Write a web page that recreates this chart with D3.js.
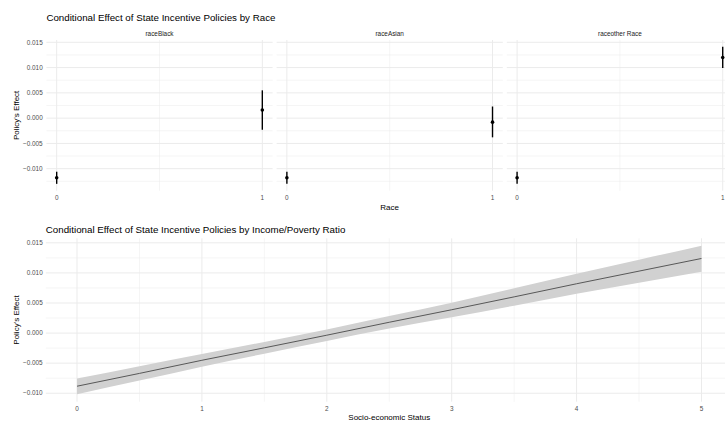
<!DOCTYPE html>
<meta charset="utf-8">
<style>
body { margin: 0; background: #fff; }
svg { font-family: "Liberation Sans", Arial, sans-serif; display: block; }
.grid-major { stroke: #ebebeb; stroke-width: 1; }
.grid-minor { stroke: #ebebeb; stroke-width: 0.5; }
.tick-label { font-size: 6.4px; fill: #4d4d4d; }
.axis-title { font-size: 8px; fill: #000; }
.plot-title { font-size: 9.75px; fill: #000; }
.strip { font-size: 6.4px; fill: #1a1a1a; }
</style>
<body>
<script src="https://cdn.jsdelivr.net/npm/d3@7"></script>
<script>

// race panels: effect at race = 0 and race = 1
const races = ["raceBlack", "raceAsian", "raceother Race"];
const raceX = [0, 1];
const raceEst = [[-0.0118, 0.0016], [-0.0118, -0.0008], [-0.0118, 0.0120]];
const raceLow = [[-0.0130, -0.0023], [-0.0130, -0.0038], [-0.0130, 0.0099]];
const raceHigh = [[-0.0106, 0.0055], [-0.0106, 0.0023], [-0.0106, 0.0141]];

// income/poverty ratio panel
const sesX = [0, 0.5, 1, 1.5, 2, 2.5, 3, 3.5, 4, 4.5, 5];
const sesFit = [-0.00883, -0.00670, -0.00452, -0.00245, -0.00035, 0.00180, 0.00388, 0.00602, 0.00820, 0.01030, 0.01240];
const sesLow = [-0.01017, -0.00790, -0.00560, -0.00343, -0.00130, 0.00075, 0.00262, 0.00455, 0.00652, 0.00838, 0.01020];
const sesHigh = [-0.00756, -0.00550, -0.00348, -0.00147, 0.00058, 0.00282, 0.00505, 0.00745, 0.00985, 0.01220, 0.01452];

const yTicks = [-0.010, -0.005, 0.000, 0.005, 0.010, 0.015];
const yMinor = [-0.0125, -0.0075, -0.0025, 0.0025, 0.0075, 0.0125];
const sesTicks = [0, 1, 2, 3, 4, 5];
const sesMinor = [0.5, 1.5, 2.5, 3.5, 4.5];

const W = 725, H = 421;
const svg = d3.select("body").append("svg").attr("width", W).attr("height", H);
const fmt = d3.format(".3f");

function expand(lo, hi, f) {
  const d = (hi - lo) * f;
  return [lo - d, hi + d];
}

function yGrid(g, y, left, right) {
  g.selectAll(".ymin").data(yMinor.filter(v => v >= y.domain()[0] && v <= y.domain()[1]))
    .enter().append("line").attr("class", "grid-minor")
    .attr("x1", left).attr("x2", right)
    .attr("y1", d => y(d)).attr("y2", d => y(d));
  g.selectAll(".ymaj").data(yTicks.filter(v => v >= y.domain()[0] && v <= y.domain()[1]))
    .enter().append("line").attr("class", "grid-major")
    .attr("x1", left).attr("x2", right)
    .attr("y1", d => y(d)).attr("y2", d => y(d));
}

// ---- top: faceted point ranges ----
const top1 = 40, bottom1 = 190.7;
const allLow = d3.min(raceLow.flat()), allHigh = d3.max(raceHigh.flat());
const y1 = d3.scaleLinear().domain(expand(allLow, allHigh, 0.05)).range([bottom1, top1]);
const panelW = 226.2, panelStep = 230.2, panel0 = 46.4;

races.forEach(function(r, i) {
  let left = panel0 + i * panelStep;
  let x = d3.scaleLinear().domain(expand(0, 1, 0.05)).range([left, left + panelW]);
  let g = svg.append("g");
  yGrid(g, y1, left, left + panelW);
  g.append("line").attr("class", "grid-minor")
    .attr("x1", x(0.5)).attr("x2", x(0.5)).attr("y1", top1).attr("y2", bottom1);
  g.selectAll(".xmaj").data(raceX).enter().append("line").attr("class", "grid-major")
    .attr("x1", d => x(d)).attr("x2", d => x(d)).attr("y1", top1).attr("y2", bottom1);

  g.selectAll(".xl").data(raceX).enter().append("text").attr("class", "tick-label")
    .attr("x", d => x(d)).attr("y", 200.3).attr("text-anchor", "middle").text(d => d);

  g.append("text").attr("class", "strip").attr("x", left + panelW / 2).attr("y", 36)
    .attr("text-anchor", "middle").text(r);

  g.selectAll(".bar").data(raceX).enter().append("line")
    .attr("x1", d => x(d)).attr("x2", d => x(d))
    .attr("y1", (d, j) => y1(raceLow[i][j])).attr("y2", (d, j) => y1(raceHigh[i][j]))
    .attr("stroke", "#000").attr("stroke-width", 1.4);
  g.selectAll(".pt").data(raceX).enter().append("circle")
    .attr("cx", d => x(d)).attr("cy", (d, j) => y1(raceEst[i][j]))
    .attr("r", 1.8).attr("fill", "#000");
});

svg.selectAll(".yl1").data(yTicks).enter().append("text").attr("class", "tick-label")
  .attr("x", 42.7).attr("y", d => y1(d)).attr("dy", "0.35em").attr("text-anchor", "end")
  .text(d => fmt(d));

svg.append("text").attr("class", "plot-title").attr("x", 46.4).attr("y", 21).text("Conditional Effect of State Incentive Policies by Race");
svg.append("text").attr("class", "axis-title").attr("x", (panel0 + panel0 + 2 * panelStep + panelW) / 2).attr("y", 209.5)
  .attr("text-anchor", "middle").text("Race");
svg.append("text").attr("class", "axis-title").attr("transform", "translate(18.6," + (top1 + bottom1) / 2 + ")rotate(-90)")
  .attr("text-anchor", "middle").text("Policy's Effect");

// ---- bottom: income/poverty ratio ----
const top2 = 238.3, bottom2 = 401.7, left2 = 45.8, right2 = 732.7;
const x2 = d3.scaleLinear().domain(expand(0, 5, 0.05)).range([left2, right2]);
const y2 = d3.scaleLinear().domain(expand(d3.min(sesLow), d3.max(sesHigh), 0.05)).range([bottom2, top2]);
const g2 = svg.append("g");
yGrid(g2, y2, left2, right2);
g2.selectAll(".xmin").data(sesMinor).enter().append("line").attr("class", "grid-minor")
  .attr("x1", d => x2(d)).attr("x2", d => x2(d)).attr("y1", top2).attr("y2", bottom2);
g2.selectAll(".xmaj").data(sesTicks).enter().append("line").attr("class", "grid-major")
  .attr("x1", d => x2(d)).attr("x2", d => x2(d)).attr("y1", top2).attr("y2", bottom2);

const ses = sesX.map((d, i) => ({x: d, fit: sesFit[i], lo: sesLow[i], hi: sesHigh[i]}));
g2.append("path").datum(ses)
  .attr("d", d3.area().x(d => x2(d.x)).y0(d => y2(d.lo)).y1(d => y2(d.hi)).curve(d3.curveMonotoneX))
  .attr("fill", "#d1d1d1");
g2.append("path").datum(ses)
  .attr("d", d3.line().x(d => x2(d.x)).y(d => y2(d.fit)))
  .attr("fill", "none").attr("stroke", "#4a4a4a").attr("stroke-width", 0.9);

g2.selectAll(".yl2").data(yTicks).enter().append("text").attr("class", "tick-label")
  .attr("x", 42.7).attr("y", d => y2(d)).attr("dy", "0.35em").attr("text-anchor", "end")
  .text(d => fmt(d));
g2.selectAll(".xl2").data(sesTicks).enter().append("text").attr("class", "tick-label")
  .attr("x", d => x2(d)).attr("y", 410.6).attr("text-anchor", "middle").text(d => d);

svg.append("text").attr("class", "plot-title").attr("x", 45.8).attr("y", 232.6).text("Conditional Effect of State Incentive Policies by Income/Poverty Ratio");
svg.append("text").attr("class", "axis-title").attr("x", (left2 + right2) / 2).attr("y", 419.5)
  .attr("text-anchor", "middle").text("Socio-economic Status");
svg.append("text").attr("class", "axis-title").attr("transform", "translate(18.6," + (top2 + bottom2) / 2 + ")rotate(-90)")
  .attr("text-anchor", "middle").text("Policy's Effect");

</script>
